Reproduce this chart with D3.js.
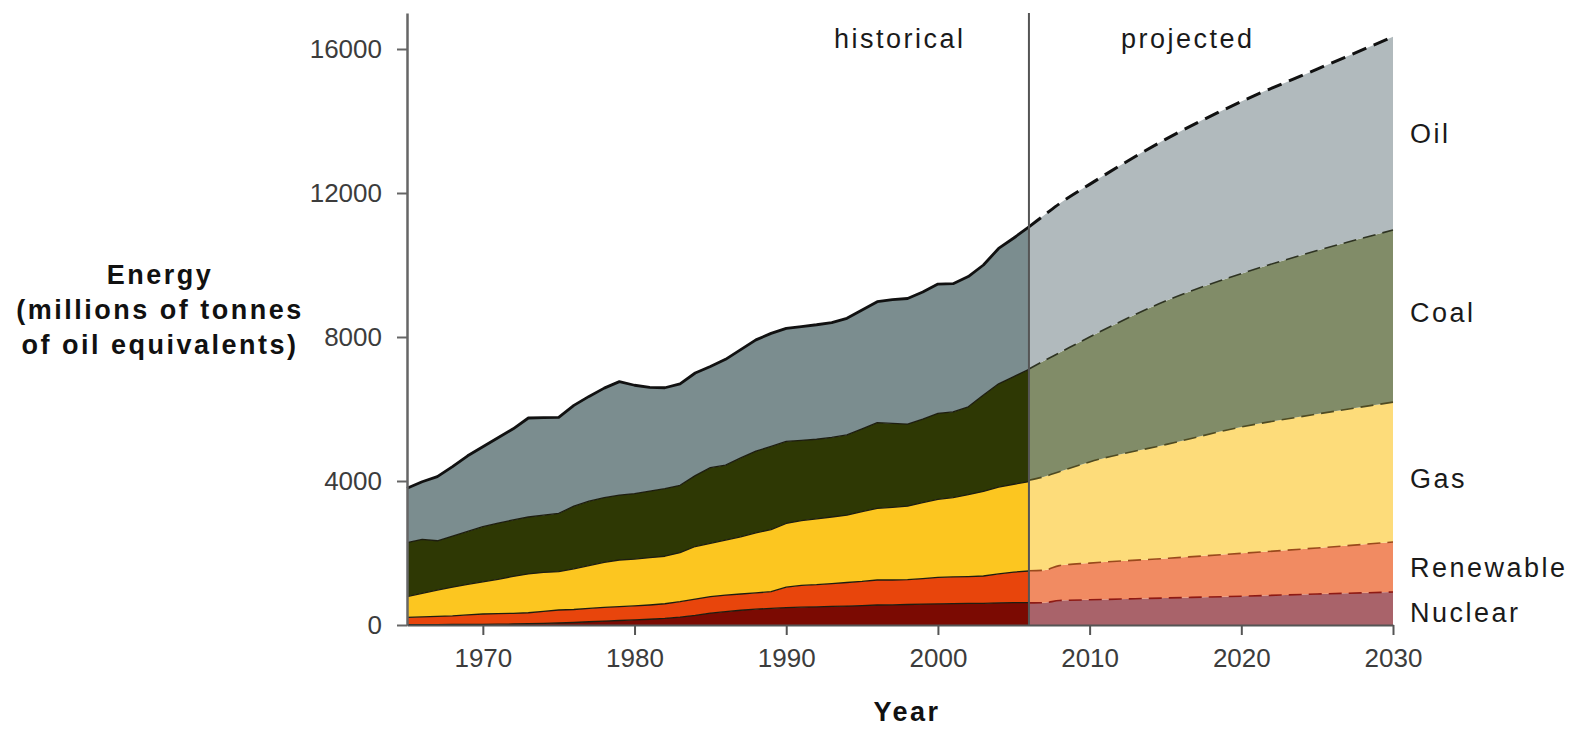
<!DOCTYPE html>
<html>
<head>
<meta charset="utf-8">
<script src="https://d3js.org/d3.v7.min.js"></script>
<style>
  body { margin: 0; background: #fff; }
  svg { width: 1577px; height: 729px; display: block; }
  text { font-family: "Liberation Sans", Arial, sans-serif; }
</style>
</head>
<body>
<svg></svg>
<script>
// layers from bottom to top
const fuels = ["Nuclear", "Renewable", "Gas", "Coal", "Oil"];

const histYears = [1965, 1966, 1967, 1968, 1969, 1970, 1971, 1972, 1973, 1974,
                   1975, 1976, 1977, 1978, 1979, 1980, 1981, 1982, 1983, 1984,
                   1985, 1986, 1987, 1988, 1989, 1990, 1991, 1992, 1993, 1994,
                   1995, 1996, 1997, 1998, 1999, 2000, 2001, 2002, 2003, 2004,
                   2005, 2006];
const nuclearHist = [10, 10, 12, 14, 16, 18, 22, 28, 35, 45, 55, 70, 90, 110, 125, 140, 160, 185, 220, 270,
                     330, 370, 410, 440, 460, 480, 495, 505, 515, 525, 540, 555, 560, 570, 580, 585, 595, 600,
                     600, 615, 620, 620];
const renewableHist = [203, 215, 228, 241, 264, 288, 293, 296, 305, 335, 362, 360, 370, 380, 384, 390, 396, 405,
                       428, 450, 460, 460, 451, 450, 466, 570, 605, 615, 635, 655, 670, 695, 690, 690, 710, 739,
                       740, 745, 761, 805, 850, 880];
const gasHist = [577, 655, 730, 795, 850, 894, 955, 1026, 1080, 1080, 1063, 1130, 1190, 1250, 1297, 1300, 1314,
                 1320, 1362, 1460, 1480, 1530, 1589, 1670, 1724, 1770, 1800, 1830, 1850, 1870, 1940, 1990, 2020,
                 2040, 2110, 2166, 2205, 2275, 2349, 2410, 2440, 2480];
const coalHist = [1500, 1500, 1370, 1420, 1470, 1530, 1560, 1570, 1580, 1590, 1620, 1740, 1790, 1800, 1804, 1820,
                  1850, 1880, 1870, 1970, 2100, 2080, 2190, 2270, 2310, 2280, 2230, 2210, 2210, 2230, 2300, 2380,
                  2330, 2280, 2320, 2390, 2380, 2440, 2680, 2870, 2990, 3120];
const oilHist = [1510, 1600, 1780, 1930, 2100, 2220, 2370, 2530, 2750, 2710, 2670, 2800, 2910, 3040, 3150, 3010,
                 2880, 2800, 2820, 2850, 2810, 2940, 3010, 3090, 3140, 3140, 3160, 3180, 3190, 3240, 3300, 3360,
                 3440, 3490, 3530, 3590, 3560, 3620, 3610, 3760, 3850, 3960];

const projYears = [2006, 2007, 2008, 2010, 2015, 2020, 2025, 2030];
const nuclearProj = [615, 620, 680, 700, 750, 800, 860, 915];
const renewableProj = [890, 900, 970, 1020, 1100, 1190, 1280, 1390];
const gasProj = [2515, 2600, 2610, 2810, 3160, 3510, 3720, 3885];
const coalProj = [3090, 3220, 3300, 3470, 3990, 4260, 4540, 4780];
const oilProj = [3950, 4040, 4140, 4240, 4490, 4780, 5040, 5370];

const yTicks = [0, 4000, 8000, 12000, 16000];
const xTicks = [1970, 1980, 1990, 2000, 2010, 2020, 2030];
const splitYear = 2006;

const colorsHist = { Nuclear: "#7b0a02", Renewable: "#e8450c", Gas: "#fcc620", Coal: "#2e3804", Oil: "#7b8d8f" };
const colorsProj = { Nuclear: "#a9636a", Renewable: "#f18b62", Gas: "#fddc7a", Coal: "#818c68", Oil: "#b1babd" };
const dashColors = { Nuclear: "#8e1a14", Renewable: "#9a4a1c", Gas: "#4e4a22", Coal: "#2e3322", Oil: "#111" };

function buildRows(years, series) {
    return years.map((yr, i) => {
        const row = { year: yr };
        fuels.forEach(f => row[f] = series[f][i]);
        return row;
    });
}

const histRows = buildRows(histYears, { Nuclear: nuclearHist, Renewable: renewableHist, Gas: gasHist, Coal: coalHist, Oil: oilHist });
const projRows = buildRows(projYears, { Nuclear: nuclearProj, Renewable: renewableProj, Gas: gasProj, Coal: coalProj, Oil: oilProj });

const svg = d3.select("svg");

const scX = d3.scaleLinear().domain([1965, 2030]).range([407, 1393]);
const scY = d3.scaleLinear().domain([0, 17000]).range([625, 13]);

const stack = d3.stack().keys(fuels);
const histStack = stack(histRows);
const projStack = stack(projRows);

// areas
function drawAreas(layers, colors, curve) {
    const area = d3.area()
        .x(d => scX(d.data.year))
        .y0(d => scY(d[0]))
        .y1(d => scY(d[1]))
        .curve(curve);
    svg.append("g")
        .selectAll("path")
        .data(layers)
        .enter()
        .append("path")
        .attr("d", area)
        .style("fill", d => colors[d.key]);
}

drawAreas(histStack, colorsHist, d3.curveLinear);
drawAreas(projStack, colorsProj, d3.curveMonotoneX);

// boundary lines
const histLine = d3.line().x(d => scX(d.data.year)).y(d => scY(d[1]));
svg.append("g")
    .selectAll("path")
    .data(histStack)
    .enter()
    .append("path")
    .attr("d", histLine)
    .style("fill", "none")
    .style("stroke", d => d.key === "Oil" ? "#111" : "#1d1d10")
    .style("stroke-width", d => d.key === "Oil" ? 2.8 : 1.3)
    .style("stroke-linejoin", "round");

const projLine = d3.line().x(d => scX(d.data.year)).y(d => scY(d[1])).curve(d3.curveMonotoneX);
svg.append("g")
    .selectAll("path")
    .data(projStack)
    .enter()
    .append("path")
    .attr("d", projLine)
    .style("fill", "none")
    .style("stroke", d => dashColors[d.key])
    .style("stroke-width", d => d.key === "Oil" ? 3 : 1.6)
    .style("stroke-dasharray", d => d.key === "Oil" ? "15,8" : "13,7");

// historical / projected divider
svg.append("line")
    .attr("x1", scX(splitYear)).attr("x2", scX(splitYear))
    .attr("y1", scY.range()[1]).attr("y2", scY(0))
    .style("stroke", "#555")
    .style("stroke-width", 2);

// axes
const axisY = d3.axisLeft(scY).tickValues(yTicks).tickSize(10).tickSizeOuter(0).tickPadding(15)
    .tickFormat(d3.format("d"));
const gy = svg.append("g").attr("transform", "translate(407, 0)").call(axisY);
gy.select(".domain").style("stroke", "#666").style("stroke-width", 2.5);
gy.selectAll(".tick line").style("stroke", "#666").style("stroke-width", 2);
gy.selectAll(".tick text").style("font-size", "26px").style("fill", "#3c3c3c")
    .style("font-family", "'Liberation Sans', Arial, sans-serif");

const axisX = d3.axisBottom(scX).tickValues(xTicks).tickSize(10).tickSizeOuter(0).tickPadding(14)
    .tickFormat(d3.format("d"));
const gx = svg.append("g").attr("transform", "translate(0, 625)").call(axisX);
gx.select(".domain").style("stroke", "#555").style("stroke-width", 2);
gx.selectAll(".tick line").style("stroke", "#555").style("stroke-width", 2);
gx.selectAll(".tick text").style("font-size", "26px").style("fill", "#3c3c3c")
    .style("font-family", "'Liberation Sans', Arial, sans-serif");

// texts
const labelTop = { Oil: 143, Coal: 322, Gas: 488, Renewable: 577, Nuclear: 622 };
svg.append("g")
    .selectAll("text")
    .data(fuels)
    .enter()
    .append("text")
    .attr("x", 1410)
    .attr("y", d => labelTop[d])
    .style("font-size", "27px")
    .style("letter-spacing", "2.5px")
    .style("fill", "#1a1a1a")
    .text(d => d);

svg.append("text").attr("x", 834).attr("y", 48)
    .style("font-size", "27px").style("letter-spacing", "2.5px").style("fill", "#1a1a1a")
    .text("historical");
svg.append("text").attr("x", 1121).attr("y", 48)
    .style("font-size", "27px").style("letter-spacing", "2.5px").style("fill", "#1a1a1a")
    .text("projected");

const titleY = ["Energy", "(millions of tonnes", "of oil equivalents)"];
svg.append("g")
    .selectAll("text")
    .data(titleY)
    .enter()
    .append("text")
    .attr("x", 160)
    .attr("y", (d, i) => 284 + i * 35)
    .attr("text-anchor", "middle")
    .style("font-size", "27px")
    .style("font-weight", "bold")
    .style("letter-spacing", "2.5px")
    .style("fill", "#111")
    .text(d => d);

svg.append("text").attr("x", 907).attr("y", 721)
    .attr("text-anchor", "middle")
    .style("font-size", "27px").style("font-weight", "bold").style("letter-spacing", "2.5px").style("fill", "#111")
    .text("Year");
</script>
</body>
</html>
